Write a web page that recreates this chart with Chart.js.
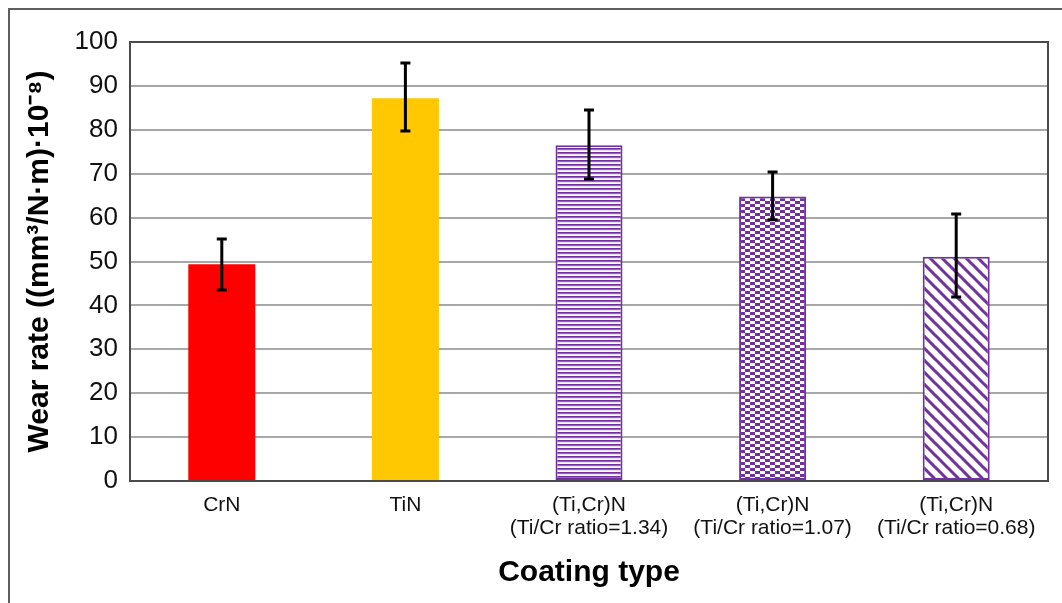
<!DOCTYPE html>
<html>
<head>
<meta charset="utf-8">
<script src="https://cdn.jsdelivr.net/npm/chart.js@4/dist/chart.umd.min.js"></script>
<style>
  html, body { margin: 0; padding: 0; background: #fff; overflow: hidden; }
  #wrap { position: relative; width: 1062px; height: 603px; }
  #frame { position: absolute; left: 8px; top: 8px; width: 1100px; height: 700px;
           border: 2px solid #5f5f5f; box-sizing: border-box; }
  #c { position: absolute; left: 0; top: 0; }
</style>
</head>
<body>
<div id="wrap">
  <div id="frame"></div>
  <canvas id="c" width="1062" height="603"></canvas>
</div>
<script>
// Coating types and measured wear rates (×10⁻⁸ mm³/N·m)
const categories = [
  ['CrN'],
  ['TiN'],
  ['(Ti,Cr)N', '(Ti/Cr ratio=1.34)'],
  ['(Ti,Cr)N', '(Ti/Cr ratio=1.07)'],
  ['(Ti,Cr)N', '(Ti/Cr ratio=0.68)']
];
const wearRate = [49.4, 87.2, 76.5, 64.8, 51.1];
const errLow   = [43.5, 79.7, 68.8, 59.5, 41.9];
const errHigh  = [55.1, 95.2, 84.5, 70.4, 60.8];
const yTicks   = [0, 10, 20, 30, 40, 50, 60, 70, 80, 90, 100];

const PURPLE = '#7030a0';
const FONT = '"Liberation Sans", Arial, sans-serif';

function tile(w, h, paint) {
  const cv = document.createElement('canvas');
  cv.width = w; cv.height = h;
  const g = cv.getContext('2d');
  g.fillStyle = '#fff';
  g.fillRect(0, 0, w, h);
  paint(g);
  return document.getElementById('c').getContext('2d').createPattern(cv, 'repeat');
}

// horizontal stripes
const hStripes = tile(4, 4, g => {
  g.fillStyle = PURPLE; g.fillRect(0, 0, 4, 1);
  g.fillStyle = 'rgba(112,48,160,0.75)'; g.fillRect(0, 1, 4, 1);
  g.fillStyle = 'rgba(112,48,160,0.15)'; g.fillRect(0, 2, 4, 1);
});
// small checkerboard
const checker = tile(10, 6, g => {
  g.fillStyle = PURPLE;
  g.fillRect(0, 0, 5, 3);
  g.fillRect(5, 3, 5, 3);
});
// wide downward diagonal stripes
const diagonal = tile(12, 12, g => {
  g.strokeStyle = PURPLE; g.lineWidth = 3; g.lineCap = 'square';
  g.beginPath();
  g.moveTo(-2, -2); g.lineTo(14, 14);
  g.moveTo(-14, -2); g.lineTo(2, 14);
  g.moveTo(10, -2); g.lineTo(26, 14);
  g.stroke();
});

const fills   = ['#ff0000', '#ffc800', hStripes, checker, diagonal];
const borders = ['#ff0000', '#ffc800', PURPLE, PURPLE, PURPLE];
const borderW = [0, 0, 2, 2, 2];

// error bars and the upper/right plot frame
const extras = {
  id: 'extras',
  afterDatasetsDraw(chart) {
    const ctx = chart.ctx;
    const y = chart.scales.y;
    const meta = chart.getDatasetMeta(0);
    ctx.save();
    ctx.strokeStyle = '#000';
    ctx.lineWidth = 3;
    meta.data.forEach((bar, i) => {
      const x = bar.x;
      const yl = y.getPixelForValue(errLow[i]);
      const yh = y.getPixelForValue(errHigh[i]);
      ctx.beginPath();
      ctx.moveTo(x, yl); ctx.lineTo(x, yh);
      ctx.moveTo(x - 5, yl); ctx.lineTo(x + 5, yl);
      ctx.moveTo(x - 5, yh); ctx.lineTo(x + 5, yh);
      ctx.stroke();
    });
    const a = chart.chartArea;
    ctx.strokeStyle = '#4a4a4a';
    ctx.lineWidth = 2;
    ctx.beginPath();
    ctx.moveTo(a.left, a.top); ctx.lineTo(a.right, a.top); ctx.lineTo(a.right, a.bottom);
    ctx.stroke();
    ctx.restore();
  }
};

new Chart(document.getElementById('c'), {
  type: 'bar',
  data: {
    labels: categories,
    datasets: [{
      data: wearRate,
      backgroundColor: fills,
      borderColor: borders,
      borderWidth: borderW,
      borderSkipped: false,
      categoryPercentage: 1,
      barPercentage: 0.365
    }]
  },
  options: {
    responsive: false,
    animation: false,
    devicePixelRatio: 1,
    layout: { padding: { top: 42, right: 14, left: 0, bottom: 0 } },
    plugins: { legend: { display: false }, tooltip: { enabled: false } },
    scales: {
      x: {
        afterFit: s => { s.height = 122; },
        grid: { display: false, drawTicks: false },
        border: { color: '#4a4a4a', width: 2 },
        ticks: { color: '#111', padding: 13, maxRotation: 0, autoSkip: false,
                 font: { family: FONT, size: 21, lineHeight: 1.1 } },
        title: { display: true, text: 'Coating type', color: '#000',
                 padding: { top: 0, bottom: 12 },
                 font: { family: FONT, size: 30, weight: 'bold', lineHeight: 1.2 } }
      },
      y: {
        min: 0, max: 100,
        afterFit: s => { s.width = 130; },
        afterBuildTicks: s => { s.ticks = yTicks.map(v => ({ value: v })); },
        grid: { color: '#a8a8a8', lineWidth: 2, drawTicks: false },
        border: { color: '#4a4a4a', width: 2 },
        ticks: { color: '#111', padding: 12,
                 font: { family: FONT, size: 26 } },
        title: { display: true, text: 'Wear rate ((mm³/N·m)·10⁻⁸)', color: '#000',
                 padding: { top: 22, bottom: 0 },
                 font: { family: FONT, size: 30, weight: 'bold', lineHeight: 1.2 } }
      }
    }
  },
  plugins: [extras]
});
</script>
</body>
</html>
